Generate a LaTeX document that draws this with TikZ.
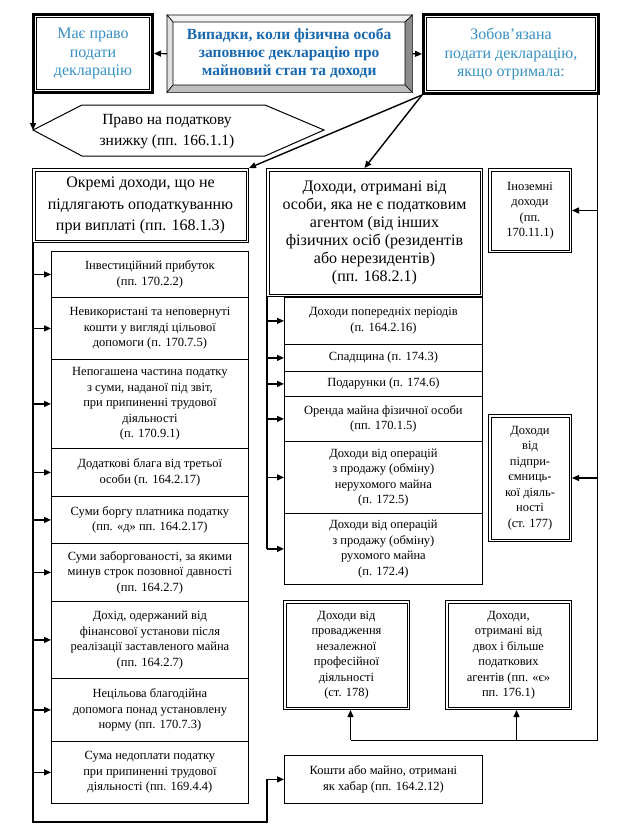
\documentclass[tikz,border=0pt]{standalone}
\usepackage{fontspec}
\setmainfont{Liberation Serif}
\usetikzlibrary{arrows.meta,calc}
\definecolor{blueA}{RGB}{55,145,195}
\definecolor{blueB}{RGB}{25,105,175}
\definecolor{bevT}{RGB}{242,242,242}
\definecolor{bevL}{RGB}{225,225,225}
\definecolor{bevR}{RGB}{140,140,140}
\definecolor{bevB}{RGB}{190,190,190}
\begin{document}
\begin{tikzpicture}[x=1pt,y=-1pt,
  every node/.style={inner sep=0pt, align=center},
  wh/.style 2 args={minimum width=#1, minimum height=#2},
  box/.style={draw, line width=0.8pt, anchor=north west},
  dbl/.style={draw, line width=1pt, double, double distance=1.5pt, outer sep=1.75pt, anchor=north west},
  thickbox/.style={draw, line width=3pt, anchor=north west},
  fs/.style={font=\fontsize{12.5}{15.5}\selectfont},
  arr/.style={line width=1.2pt, -{Triangle[length=7pt,width=6pt]}},
  ln/.style={line width=1.2pt},
]
\useasboundingbox (0,0) rectangle (622,836);
\fill[white] (0,0) rectangle (622,836);

% top row
\node[thickbox, wh={119pt}{78pt}, font=\fontsize{16}{18.5}\selectfont, text=blueA] (mae) at (32,13) {Має право\\подати\\декларацію};
\draw[line width=0.8pt] ($(mae.north west)+(4.5,4.5)$) rectangle ($(mae.south east)+(-4.5,-4.5)$);

\node[thickbox, wh={175pt}{79pt}, font=\fontsize{16}{18.5}\selectfont, text=blueA] (zob) at (422,13) {Зобов’язана\\подати декларацію,\\якщо отримала:};
\draw[line width=0.8pt] ($(zob.north west)+(4.5,4.5)$) rectangle ($(zob.south east)+(-4.5,-4.5)$);

\node[anchor=north west, wh={245pt}{77pt}] (vipo) at (167,15) {};
\coordinate (vi1) at (173,22);
\coordinate (vi2) at (405,85);
\filldraw[fill=bevT, line width=0.6pt] (vipo.north west) -- (vipo.north east) -- (vi2 |- vi1) -- (vi1) -- cycle;
\filldraw[fill=bevL, line width=0.6pt] (vipo.north west) -- (vi1) -- (vi1 |- vi2) -- (vipo.south west) -- cycle;
\filldraw[fill=bevR, line width=0.6pt] (vipo.north east) -- (vipo.south east) -- (vi2) -- (vi2 |- vi1) -- cycle;
\filldraw[fill=bevB, line width=0.6pt] (vipo.south west) -- (vipo.south east) -- (vi2) -- (vi1 |- vi2) -- cycle;
\node[anchor=north west, wh={232pt}{63pt}, font=\bfseries\fontsize{15.5}{18}\selectfont, text=blueB] (vip) at (173,22) {Випадки, коли фізична особа\\заповнює декларацію про\\майновий стан та доходи};

\draw[arr] (vipo.west) -- (mae.east);
\draw[arr] (vipo.east) -- (zob.west);

% hexagon
\node[font=\fontsize{15.5}{21}\selectfont] (hex) at (167,132) {Право на податкову\\знижку (пп. 166.1.1)};
\coordinate (hexL) at (33,130);
\draw[line width=1pt] (hexL) -- (82,105) -- (265,105) -- (324,130) -- (265,156) -- (82,156) -- cycle;
\draw[arr] (hexL |- mae.south) -- (hexL);

% big boxes
\node[dbl, wh={213.5pt}{71.5pt}, font=\fontsize{16}{21.5}\selectfont] (okr) at (32,168) {Окремі доходи, що не\\підлягають оподаткуванню\\при виплаті (пп. 168.1.3)};
\node[dbl, wh={213.5pt}{125.5pt}, font=\fontsize{16}{18}\selectfont] (mid) at (266,168) {Доходи, отримані від\\особи, яка не є податковим\\агентом (від інших\\фізичних осіб (резидентів\\або нерезидентів)\\(пп. 168.2.1)};
\node[dbl, wh={80.5pt}{81.5pt}, fs] (inoz) at (488,168) {Іноземні\\доходи\\(пп.\\170.11.1)};
\node[dbl, wh={80.5pt}{124.5pt}, fs] (pidp) at (488,414) {Доходи\\від\\підпри-\\ємниць-\\кої діяль-\\ності\\(ст. 177)};
\node[dbl, wh={123.5pt}{106.5pt}, fs] (prof) at (283,600) {Доходи від\\провадження\\незалежної\\професійної\\діяльності\\(ст. 178)};
\node[dbl, wh={123.5pt}{106.5pt}, fs] (agent) at (445,600) {Доходи,\\отримані від\\двох і більше\\податкових\\агентів (пп. «є»\\пп. 176.1)};

\draw[arr, line width=1.4pt] (zob.south west) -- (okr.north east);
\coordinate (midt) at ([xshift=-10pt]mid.north);
\draw[arr, line width=1.4pt] (zob.south west) -- (midt);

% left items
\node[box, fs, wh={197pt}{46pt}] (l1) at (51,251) {Інвестиційний прибуток\\(пп. 170.2.2)};
\node[box, fs, wh={197pt}{62pt}] (l2) at (51,297) {Невикористані та неповернуті\\кошти у вигляді цільової\\допомоги (п. 170.7.5)};
\node[box, fs, wh={197pt}{89pt}] (l3) at (51,359) {Непогашена частина податку\\з суми, наданої під звіт,\\при припиненні трудової\\діяльності\\(п. 170.9.1)};
\node[box, fs, wh={197pt}{48pt}] (l4) at (51,448) {Додаткові блага від третьої\\особи (п. 164.2.17)};
\node[box, fs, wh={197pt}{47pt}] (l5) at (51,496) {Суми боргу платника податку\\(пп. «д» пп. 164.2.17)};
\node[box, fs, wh={197pt}{58pt}] (l6) at (51,543) {Суми заборгованості, за якими\\минув строк позовної давності\\(пп. 164.2.7)};
\node[box, fs, wh={197pt}{77pt}] (l7) at (51,601) {Дохід, одержаний від\\фінансової установи після\\реалізації заставленого майна\\(пп. 164.2.7)};
\node[box, fs, wh={197pt}{63pt}] (l8) at (51,678) {Нецільова благодійна\\допомога понад установлену\\норму (пп. 170.7.3)};
\node[box, fs, wh={197pt}{62pt}] (l9) at (51,741) {Сума недоплати податку\\при припиненні трудової\\діяльності (пп. 169.4.4)};

% middle items
\node[box, fs, wh={198pt}{47pt}] (m1) at (284,297) {Доходи попередніх періодів\\(п. 164.2.16)};
\node[box, fs, wh={198pt}{27pt}] (m2) at (284,344) {Спадщина (п. 174.3)};
\node[box, fs, wh={198pt}{25pt}] (m3) at (284,371) {Подарунки (п. 174.6)};
\node[box, fs, wh={198pt}{45pt}] (m4) at (284,396) {Оренда майна фізичної особи\\(пп. 170.1.5)};
\node[box, fs, wh={198pt}{72pt}] (m5) at (284,441) {Доходи від операцій\\з продажу (обміну)\\нерухомого майна\\(п. 172.5)};
\node[box, fs, wh={198pt}{71pt}] (m6) at (284,513) {Доходи від операцій\\з продажу (обміну)\\рухомого майна\\(п. 172.4)};

\node[box, wh={198pt}{48pt}, font=\fontsize{12.5}{16}\selectfont] (kosh) at (284,755) {Кошти або майно, отримані\\як хабар (пп. 164.2.12)};

% left bracket
\coordinate (lx) at (33,822);
\coordinate (mx) at (267,822);
\draw[ln] (lx |- okr.south) -- (lx) -- (mx) -- (mx |- kosh.west);
\draw[arr] (mx |- kosh.west) -- (kosh.west);
\foreach \i in {1,...,9} \draw[arr] (lx |- l\i.west) -- (l\i.west);

% middle bracket
\draw[ln] (mx |- mid.south) -- (mx |- m6.west);
\foreach \i in {1,...,6} \draw[arr] (mx |- m\i.west) -- (m\i.west);

% right line
\coordinate (rt) at (597,95);
\coordinate (rb) at (597,740);
\coordinate (pa) at ([xshift=4pt]prof.south);
\coordinate (pb) at ([xshift=8pt]agent.south);
\draw[line width=1pt] (rt) -- (rb) -- (pa |- rb);
\draw[arr] (pa |- rb) -- (pa);
\draw[arr] (pb |- rb) -- (pb);
\draw[arr] (rt |- inoz.east) -- (inoz.east);
\draw[arr] (rt |- pidp.east) -- (pidp.east);
\end{tikzpicture}
\end{document}
